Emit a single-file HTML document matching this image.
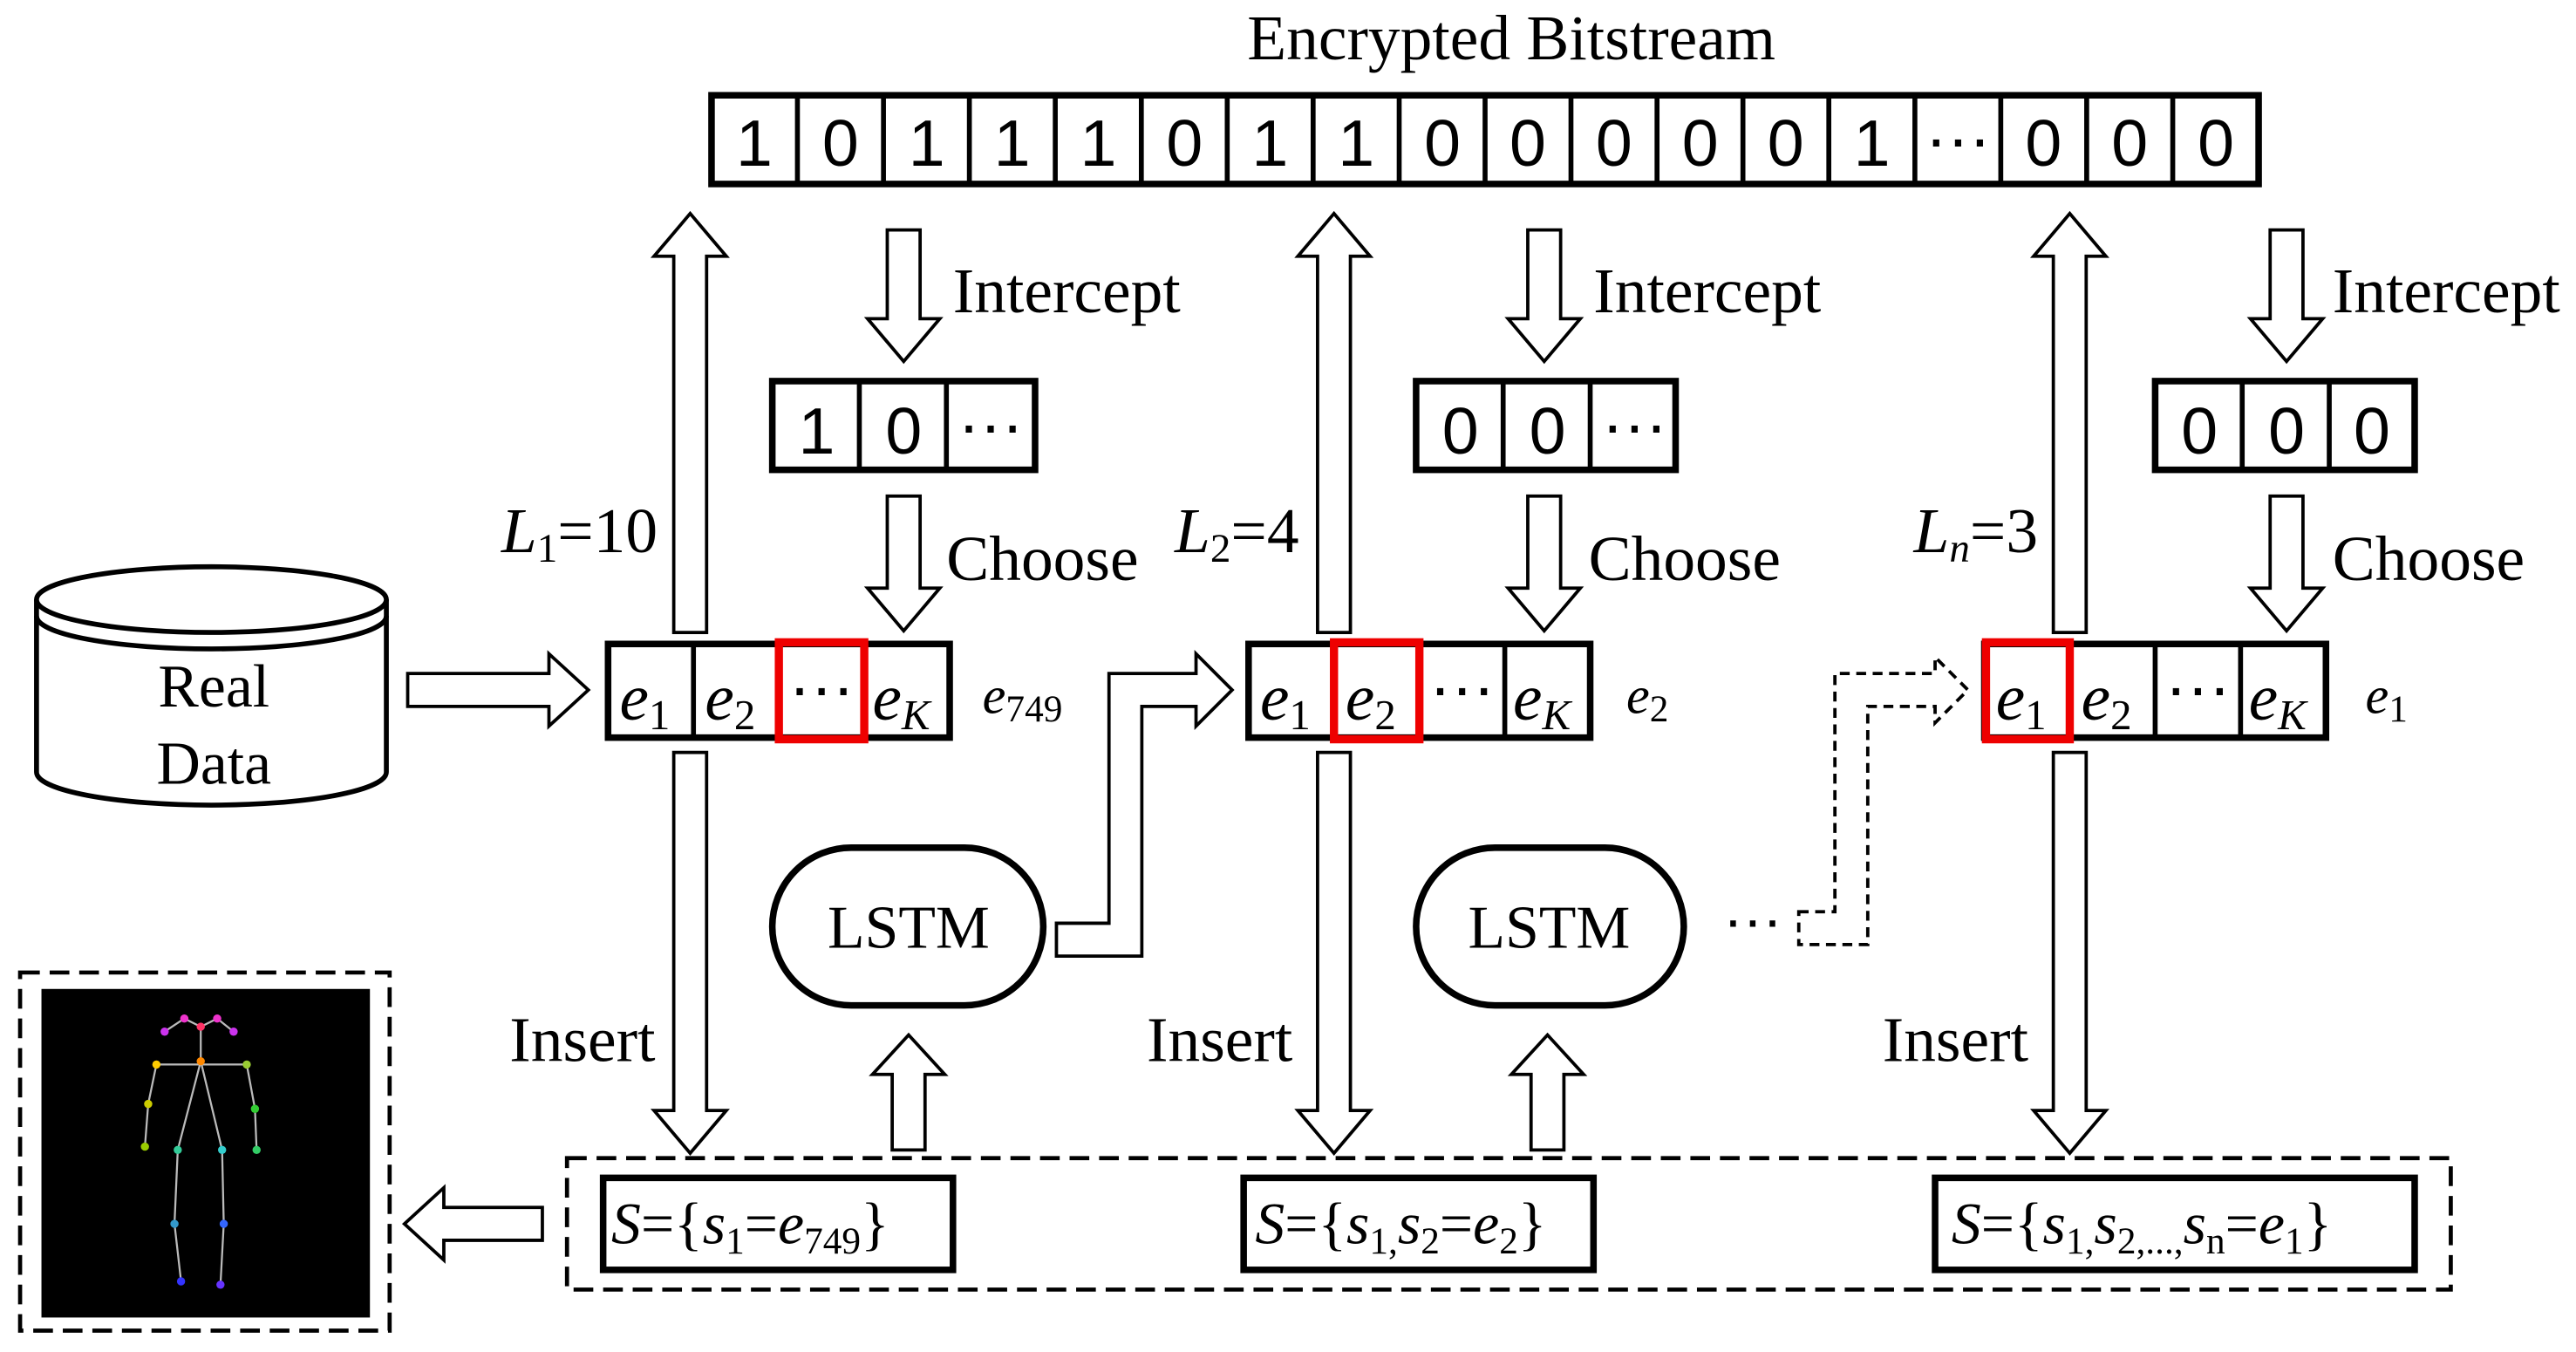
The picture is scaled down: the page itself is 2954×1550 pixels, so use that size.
<!DOCTYPE html>
<html><head><meta charset="utf-8"><style>
html,body{margin:0;padding:0;background:#fff;}
svg{display:block;}
text{font-family:"Liberation Serif",serif;fill:#000;}
.s{font-family:"Liberation Sans",sans-serif;}
</style></head><body>
<svg width="2954" height="1550" viewBox="0 0 1568 823" xmlns="http://www.w3.org/2000/svg">
<text x="920" y="36" font-size="39" text-anchor="middle">Encrypted Bitstream</text>
<!-- bitstream -->
<rect x="433" y="58" width="942" height="54" fill="#fff" stroke="#000" stroke-width="4"/>
<g stroke="#000" stroke-width="3">
<line x1="485.3" y1="58" x2="485.3" y2="112"/><line x1="537.7" y1="58" x2="537.7" y2="112"/>
<line x1="590" y1="58" x2="590" y2="112"/><line x1="642.3" y1="58" x2="642.3" y2="112"/>
<line x1="694.7" y1="58" x2="694.7" y2="112"/><line x1="747" y1="58" x2="747" y2="112"/>
<line x1="799.3" y1="58" x2="799.3" y2="112"/><line x1="851.7" y1="58" x2="851.7" y2="112"/>
<line x1="904" y1="58" x2="904" y2="112"/><line x1="956.3" y1="58" x2="956.3" y2="112"/>
<line x1="1008.7" y1="58" x2="1008.7" y2="112"/><line x1="1061" y1="58" x2="1061" y2="112"/>
<line x1="1113.3" y1="58" x2="1113.3" y2="112"/><line x1="1165.7" y1="58" x2="1165.7" y2="112"/>
<line x1="1218" y1="58" x2="1218" y2="112"/><line x1="1270.3" y1="58" x2="1270.3" y2="112"/>
<line x1="1322.7" y1="58" x2="1322.7" y2="112"/>
</g>
<g class="s" font-size="40" text-anchor="middle">
<text class="s" x="459" y="101">1</text><text class="s" x="511.5" y="101">0</text><text class="s" x="564" y="101">1</text>
<text class="s" x="616" y="101">1</text><text class="s" x="668.5" y="101">1</text><text class="s" x="721" y="101">0</text>
<text class="s" x="773" y="101">1</text><text class="s" x="825.5" y="101">1</text><text class="s" x="878" y="101">0</text>
<text class="s" x="930" y="101">0</text><text class="s" x="982.5" y="101">0</text><text class="s" x="1035" y="101">0</text>
<text class="s" x="1087" y="101">0</text><text class="s" x="1139.5" y="101">1</text><text class="s" x="1192" y="98">···</text>
<text class="s" x="1244" y="101">0</text><text class="s" x="1296.5" y="101">0</text><text class="s" x="1349" y="101">0</text>
</g>

<g fill="#fff" stroke="#000" stroke-width="2">
<polygon points="410,385 430,385 430,156 442,156 420,130 398,156 410,156"/>
<polygon points="802,385 822,385 822,156 834,156 812,130 790,156 802,156"/>
<polygon points="1250,385 1270,385 1270,156 1282,156 1260,130 1238,156 1250,156"/>
<polygon points="540,140 560,140 560,194 572,194 550,220 528,194 540,194"/>
<polygon points="930,140 950,140 950,194 962,194 940,220 918,194 930,194"/>
<polygon points="1382,140 1402,140 1402,194 1414,194 1392,220 1370,194 1382,194"/>
<polygon points="540,302 560,302 560,358 572,358 550,384 528,358 540,358"/>
<polygon points="930,302 950,302 950,358 962,358 940,384 918,358 930,358"/>
<polygon points="1382,302 1402,302 1402,358 1414,358 1392,384 1370,358 1382,358"/>
<polygon points="410,458 430,458 430,676 442,676 420,702 398,676 410,676"/>
<polygon points="802,458 822,458 822,676 834,676 812,702 790,676 802,676"/>
<polygon points="1250,458 1270,458 1270,676 1282,676 1260,702 1238,676 1250,676"/>
<polygon points="543,700 563,700 563,654 575,654 553,630 531,654 543,654"/>
<polygon points="932,700 952,700 952,654 964,654 942,630 920,654 932,654"/>
<polygon points="248,410 334,410 334,398 358,420 334,442 334,430 248,430"/>
<polygon points="330,735 270,735 270,723 246,745 270,767 270,755 330,755"/>
<polygon points="643,562 675,562 675,410 728,410 728,398 750,420 728,442 728,430 695,430 695,582 643,582"/>
</g>
<polygon points="1095,555 1117,555 1117,410 1178,410 1178,400 1198,420 1178,440 1178,430 1137,430 1137,575 1095,575" fill="#fff" stroke="#000" stroke-width="2" stroke-dasharray="6,4"/>

<g font-size="39">
<text x="580" y="190">Intercept</text>
<text x="970" y="190">Intercept</text>
<text x="1420" y="190">Intercept</text>
<text x="576" y="353">Choose</text>
<text x="967" y="353">Choose</text>
<text x="1420" y="353">Choose</text>
<text x="310" y="646">Insert</text>
<text x="698" y="646">Insert</text>
<text x="1146" y="646">Insert</text>
<text x="305" y="336"><tspan font-style="italic">L</tspan><tspan font-size="25" dy="6">1</tspan><tspan dy="-6">=10</tspan></text>
<text x="715" y="336"><tspan font-style="italic">L</tspan><tspan font-size="25" dy="6">2</tspan><tspan dy="-6">=4</tspan></text>
<text x="1165" y="336"><tspan font-style="italic">L</tspan><tspan font-size="25" font-style="italic" dy="6">n</tspan><tspan dy="-6">=3</tspan></text>
</g>

<g fill="#fff" stroke="#000" stroke-width="4">
<rect x="470" y="232" width="160" height="54"/><rect x="862" y="232" width="158" height="54"/><rect x="1312" y="232" width="158" height="54"/>
</g>
<g stroke="#000" stroke-width="3">
<line x1="523" y1="232" x2="523" y2="286"/><line x1="576" y1="232" x2="576" y2="286"/>
<line x1="915" y1="232" x2="915" y2="286"/><line x1="968" y1="232" x2="968" y2="286"/>
<line x1="1365" y1="232" x2="1365" y2="286"/><line x1="1418" y1="232" x2="1418" y2="286"/>
</g>
<g font-size="40" text-anchor="middle">
<text class="s" x="497" y="276">1</text><text class="s" x="550" y="276">0</text><text class="s" x="603" y="272">···</text>
<text class="s" x="889" y="276">0</text><text class="s" x="942" y="276">0</text><text class="s" x="995" y="272">···</text>
<text class="s" x="1339" y="276">0</text><text class="s" x="1392" y="276">0</text><text class="s" x="1444" y="276">0</text>
</g>

<g fill="#fff" stroke="#000" stroke-width="4">
<rect x="370" y="392" width="208" height="57"/><rect x="760" y="392" width="208" height="57"/><rect x="1208" y="392" width="208" height="57"/>
</g>
<g stroke="#000" stroke-width="3">
<line x1="422" y1="392" x2="422" y2="449"/><line x1="474" y1="392" x2="474" y2="449"/><line x1="526" y1="392" x2="526" y2="449"/>
<line x1="812" y1="392" x2="812" y2="449"/><line x1="864" y1="392" x2="864" y2="449"/><line x1="916" y1="392" x2="916" y2="449"/>
<line x1="1260" y1="392" x2="1260" y2="449"/><line x1="1312" y1="392" x2="1312" y2="449"/><line x1="1364" y1="392" x2="1364" y2="449"/>
</g>
<g fill="none" stroke="#e00" stroke-width="5">
<rect x="474" y="391" width="52" height="59"/><rect x="812" y="391" width="52" height="59"/><rect x="1209" y="391" width="51" height="59"/>
</g>
<g font-size="40">
<text x="377" y="438" font-style="italic">e<tspan font-size="26" font-style="normal" dy="6">1</tspan></text>
<text x="429" y="438" font-style="italic">e<tspan font-size="26" font-style="normal" dy="6">2</tspan></text>
<text class="s" x="500" y="432" text-anchor="middle">···</text>
<text x="531" y="438" font-style="italic">e<tspan font-size="26" dy="6">K</tspan></text>
<text x="767" y="438" font-style="italic">e<tspan font-size="26" font-style="normal" dy="6">1</tspan></text>
<text x="819" y="438" font-style="italic">e<tspan font-size="26" font-style="normal" dy="6">2</tspan></text>
<text class="s" x="890" y="432" text-anchor="middle">···</text>
<text x="921" y="438" font-style="italic">e<tspan font-size="26" dy="6">K</tspan></text>
<text x="1215" y="438" font-style="italic">e<tspan font-size="26" font-style="normal" dy="6">1</tspan></text>
<text x="1267" y="438" font-style="italic">e<tspan font-size="26" font-style="normal" dy="6">2</tspan></text>
<text class="s" x="1338" y="432" text-anchor="middle">···</text>
<text x="1369" y="438" font-style="italic">e<tspan font-size="26" dy="6">K</tspan></text>
</g>
<g font-size="32">
<text x="598" y="434" font-style="italic">e<tspan font-size="23" font-style="normal" dy="5">749</tspan></text>
<text x="990" y="434" font-style="italic">e<tspan font-size="23" font-style="normal" dy="5">2</tspan></text>
<text x="1440" y="434" font-style="italic">e<tspan font-size="23" font-style="normal" dy="5">1</tspan></text>
</g>

<g fill="#fff" stroke="#000" stroke-width="3">
<path d="M22,365 L22,470 A106,20 0 0 0 235,470 L235,365"/>
<ellipse cx="128.5" cy="365" rx="106.5" ry="20"/>
<path d="M22,375 A106.5,20 0 0 0 235,375" fill="none"/>
</g>
<text x="130" y="430" font-size="37" text-anchor="middle">Real</text>
<text x="130" y="477" font-size="37" text-anchor="middle">Data</text>

<g fill="#fff" stroke="#000" stroke-width="4">
<rect x="470" y="516" width="165" height="96" rx="48"/>
<rect x="862" y="516" width="163" height="96" rx="48"/>
</g>
<text x="553" y="577" font-size="37" text-anchor="middle">LSTM</text>
<text x="943" y="577" font-size="37" text-anchor="middle">LSTM</text>
<text class="s" x="1067" y="572" font-size="36" text-anchor="middle">···</text>

<rect x="345" y="705" width="1147" height="80" fill="none" stroke="#000" stroke-width="2.5" stroke-dasharray="12,6"/>
<g fill="#fff" stroke="#000" stroke-width="4">
<rect x="367" y="717" width="213" height="56"/><rect x="757" y="717" width="213" height="56"/><rect x="1178" y="717" width="292" height="56"/>
</g>
<g font-size="36">
<text x="372" y="757"><tspan font-style="italic">S</tspan>={<tspan font-style="italic">s</tspan><tspan font-size="23" dy="6">1</tspan><tspan dy="-6">=</tspan><tspan font-style="italic">e</tspan><tspan font-size="23" dy="6">749</tspan><tspan dy="-6">}</tspan></text>
<text x="764" y="757"><tspan font-style="italic">S</tspan>={<tspan font-style="italic">s</tspan><tspan font-size="23" dy="6">1,</tspan><tspan font-style="italic" dy="-6">s</tspan><tspan font-size="23" dy="6">2</tspan><tspan dy="-6">=</tspan><tspan font-style="italic">e</tspan><tspan font-size="23" dy="6">2</tspan><tspan dy="-6">}</tspan></text>
<text x="1188" y="757"><tspan font-style="italic">S</tspan>={<tspan font-style="italic">s</tspan><tspan font-size="23" dy="6">1,</tspan><tspan font-style="italic" dy="-6">s</tspan><tspan font-size="23" dy="6">2,...,</tspan><tspan font-style="italic" dy="-6">s</tspan><tspan font-size="23" dy="6">n</tspan><tspan dy="-6">=</tspan><tspan font-style="italic">e</tspan><tspan font-size="23" dy="6">1</tspan><tspan dy="-6">}</tspan></text>
</g>

<rect x="12" y="592" width="225" height="218" fill="none" stroke="#000" stroke-width="2.5" stroke-dasharray="12,6"/>
<rect x="25" y="602" width="200" height="200" fill="#000"/>
<g stroke="#bbb" stroke-width="1.2" fill="none">
<polyline points="100,628 112,620 122,625 132,620 142,628"/>
<line x1="122" y1="625" x2="122" y2="646"/>
<line x1="95" y1="648" x2="150" y2="648"/>
<polyline points="95,648 90,672 88,698"/>
<polyline points="150,648 155,675 156,700"/>
<polyline points="122,646 108,700 106,745 110,780"/>
<polyline points="122,646 135,700 136,745 134,782"/>
</g>
<g>
<circle cx="112" cy="620" r="2.5" fill="#e3c"/><circle cx="132" cy="620" r="2.5" fill="#e3c"/>
<circle cx="100" cy="628" r="2.5" fill="#c3e"/><circle cx="142" cy="628" r="2.5" fill="#c3e"/>
<circle cx="122" cy="625" r="2.5" fill="#f36"/><circle cx="122" cy="646" r="2.5" fill="#f80"/>
<circle cx="95" cy="648" r="2.5" fill="#fc0"/><circle cx="150" cy="648" r="2.5" fill="#9c3"/>
<circle cx="90" cy="672" r="2.5" fill="#cc0"/><circle cx="155" cy="675" r="2.5" fill="#3c3"/>
<circle cx="88" cy="698" r="2.5" fill="#9c0"/><circle cx="156" cy="700" r="2.5" fill="#3c6"/>
<circle cx="108" cy="700" r="2.5" fill="#3c9"/><circle cx="135" cy="700" r="2.5" fill="#3cc"/>
<circle cx="106" cy="745" r="2.5" fill="#39c"/><circle cx="136" cy="745" r="2.5" fill="#36f"/>
<circle cx="110" cy="780" r="2.5" fill="#33f"/><circle cx="134" cy="782" r="2.5" fill="#63f"/>
</g>
</svg>
</body></html>
